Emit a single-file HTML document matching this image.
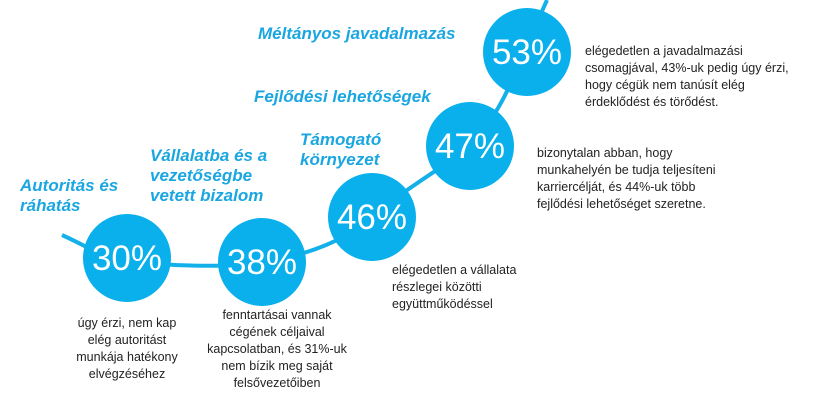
<!DOCTYPE html>
<html><head><meta charset="utf-8">
<style>
body{margin:0;background:#fff;width:828px;height:407px;overflow:hidden;font-family:"Liberation Sans",sans-serif;}
svg{position:absolute;left:0;top:0}
.t{position:absolute;color:#1aa6e0;font-weight:bold;font-style:italic;font-size:17px;line-height:20px}
.d{position:absolute;color:#222;font-size:12.5px;line-height:17px}
.c{text-align:center}
</style></head><body>
<svg width="828" height="407">
<path d="M62,235 C95,250 110,262 127,262 C180,266 230,268 262,262 C310,255 345,240 372,217 C410,185 440,170 470,146 C505,110 520,60 547,0" fill="none" stroke="#14b0ea" stroke-width="4"/>
<g id="circles"></g>
</svg>
<div class="t" style="left:20px;top:176px">Autoritás és<br>ráhatás</div>
<div class="t" style="left:150px;top:146px">Vállalatba és a<br>vezetőségbe<br>vetett bizalom</div>
<div class="t" style="left:300px;top:130px">Támogató<br>környezet</div>
<div class="t" style="left:254px;top:87px">Fejlődési lehetőségek</div>
<div class="t" style="left:258px;top:24px">Méltányos javadalmazás</div>
<div class="d c" style="left:47px;top:315px;width:160px">úgy érzi, nem kap<br>elég autoritást<br>munkája hatékony<br>elvégzéséhez</div>
<div class="d c" style="left:197px;top:307px;width:160px">fenntartásai vannak<br>cégének céljaival<br>kapcsolatban, és 31%-uk<br>nem bízik meg saját<br>felsővezetőiben</div>
<div class="d" style="left:392px;top:262px">elégedetlen a vállalata<br>részlegei közötti<br>együttműködéssel</div>
<div class="d" style="left:537px;top:145px">bizonytalan abban, hogy<br>munkahelyén be tudja teljesíteni<br>karriercélját, és 44%-uk több<br>fejlődési lehetőséget szeretne.</div>
<div class="d" style="left:585px;top:43px">elégedetlen a javadalmazási<br>csomagjával, 43%-uk pedig úgy érzi,<br>hogy cégük nem tanúsít elég<br>érdeklődést és törődést.</div>
<script>
const categories=["autoritas","bizalom","tamogato","fejlodesi","meltanyos"];
const values=[30,38,46,47,53];
const layoutX=[127,262,372,470,527];
const layoutY=[258,262,217,146,52];
const g=document.getElementById('circles');
const ns="http://www.w3.org/2000/svg";
values.forEach((v,i)=>{
  const c=document.createElementNS(ns,'circle');
  c.setAttribute('cx',layoutX[i]);c.setAttribute('cy',layoutY[i]);c.setAttribute('r',44);
  c.setAttribute('fill','#0ab0ec');
  
  
  g.appendChild(c);
  const t=document.createElementNS(ns,'text');
  t.setAttribute('x',layoutX[i]);t.setAttribute('y',layoutY[i]+12);
  t.setAttribute('text-anchor','middle');t.setAttribute('fill','#fff');
  t.setAttribute('font-size','35');t.setAttribute('font-family','Liberation Sans, sans-serif');
  t.textContent=v+'%';
  
  
  g.appendChild(t);
});
</script>
</body></html>
